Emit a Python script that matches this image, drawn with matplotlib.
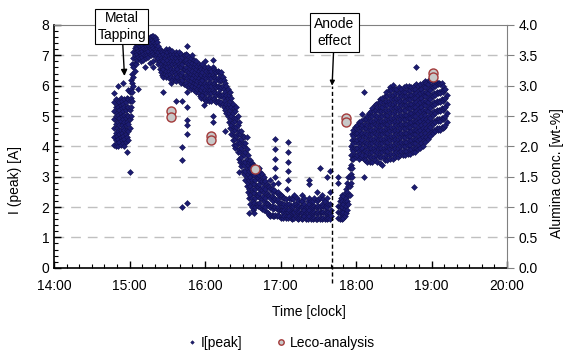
import numpy as np
import matplotlib
matplotlib.use("Agg")
import matplotlib.pyplot as plt
from matplotlib.ticker import MultipleLocator, FuncFormatter

plt.rcParams['font.family'] = ['Liberation Sans', 'DejaVu Sans']
plt.rcParams['font.size'] = 10

# I[peak] [A], clock time -> values seen in that minute
ipeak_before_tap = {
    "14:48": [4.05, 4.3, 4.6, 4.9, 5.15, 5.45, 5.75],
    "14:49": [4.0, 4.2, 4.45, 4.75, 5.0, 5.3, 5.55],
    "14:50": [4.1, 4.35, 4.6, 4.85, 5.1, 5.35],
    "14:51": [4.0, 4.25, 4.5, 4.8, 5.05, 5.3, 5.5, 6.0],
    "14:52": [4.15, 4.4, 4.7, 4.95, 5.2, 5.45],
    "14:53": [4.05, 4.3, 4.55, 4.85, 5.1, 5.35, 5.6],
    "14:54": [4.2, 4.45, 4.7, 5.0, 5.25, 5.5],
    "14:55": [4.1, 4.35, 4.6, 4.9, 5.15, 5.4, 6.1],
    "14:56": [4.0, 4.25, 4.55, 4.8, 5.05, 5.3, 5.55],
    "14:57": [4.15, 4.4, 4.7, 4.95, 5.2, 5.45],
    "14:58": [4.3, 4.55, 4.8, 5.05, 5.3, 5.6, 3.8],
    "14:59": [4.2, 4.5, 4.75, 5.0, 5.3, 5.55, 5.85],
    "15:00": [4.6, 4.9, 5.2, 5.5, 5.8, 3.15],
    "15:01": [5.0, 5.3, 5.6, 5.9, 6.2],
    "15:02": [5.5, 5.8, 6.1, 6.4, 6.7],
    "15:03": [6.0, 6.3, 6.6, 6.9, 7.1],
    "15:04": [6.5, 6.75, 7.0, 7.25],
    "15:05": [6.7, 6.9, 7.1, 7.3, 7.4],
}

ipeak_high = {
    "15:06": [6.85, 7.05, 7.25, 7.4], "15:07": [6.95, 7.15, 7.35, 5.9],
    "15:08": [6.9, 7.1, 7.3, 7.45], "15:09": [6.8, 7.0, 7.2, 7.4],
    "15:10": [6.95, 7.15, 7.35, 7.5], "15:11": [6.85, 7.05, 7.25, 7.45],
    "15:12": [7.0, 7.2, 7.4, 7.55, 6.6], "15:13": [6.9, 7.1, 7.3, 7.5],
    "15:14": [7.0, 7.2, 7.4, 7.6], "15:15": [6.95, 7.15, 7.35, 7.55],
    "15:16": [7.05, 7.25, 7.45, 7.6, 6.75], "15:17": [7.0, 7.2, 7.4, 7.6],
    "15:18": [7.1, 7.3, 7.5, 7.65], "15:19": [7.05, 7.25, 7.45, 7.65, 6.8, 6.6],
    "15:20": [7.0, 7.2, 7.4, 7.6], "15:21": [6.95, 7.15, 7.35, 7.55],
    "15:22": [6.85, 7.05, 7.25, 7.45], "15:23": [6.7, 6.9, 7.1, 7.3],
    "15:24": [6.55, 6.8, 7.0, 7.2], "15:25": [6.45, 6.7, 6.9, 7.15],
    "15:26": [6.35, 6.6, 6.85, 7.1], "15:27": [6.3, 6.55, 6.8, 7.05, 5.8],
    "15:28": [6.4, 6.65, 6.9, 7.15], "15:29": [6.3, 6.5, 6.75, 7.0, 7.2],
    "15:30": [6.35, 6.6, 6.85, 7.1], "15:31": [6.25, 6.5, 6.75, 7.0, 7.2],
    "15:32": [6.4, 6.65, 6.9, 7.15], "15:33": [6.3, 6.55, 6.8, 7.05, 6.1],
    "15:34": [6.2, 6.45, 6.7, 6.95, 7.15], "15:35": [6.3, 6.55, 6.8, 7.05],
    "15:36": [6.2, 6.45, 6.7, 6.95], "15:37": [6.15, 6.4, 6.65, 6.9, 7.1, 5.5],
    "15:38": [6.3, 6.55, 6.8, 7.05], "15:39": [6.2, 6.45, 6.7, 6.95, 7.1],
    "15:40": [6.15, 6.4, 6.65, 6.9], "15:41": [6.1, 6.35, 6.6, 6.85, 7.05],
    "15:42": [6.2, 6.45, 6.7, 6.95, 5.5, 3.97, 3.55, 2.0],
    "15:43": [6.05, 6.3, 6.55, 6.8, 7.0], "15:44": [6.05, 6.3, 6.55, 6.8, 7.0],
    "15:45": [6.1, 6.35, 6.6, 6.85, 7.05],
    "15:46": [6.0, 6.25, 6.5, 6.75, 7.0, 7.3, 5.8, 5.3, 4.87, 4.7, 4.4, 2.15],
    "15:47": [5.95, 6.2, 6.45, 6.7, 6.95], "15:48": [6.05, 6.3, 6.55, 6.8],
    "15:49": [5.9, 6.15, 6.4, 6.65, 6.9], "15:50": [6.0, 6.25, 6.5, 6.75, 7.0],
    "15:51": [5.85, 6.1, 6.35, 6.6, 6.85], "15:52": [5.95, 6.2, 6.45, 6.7],
    "15:53": [5.8, 6.05, 6.3, 6.55, 6.8], "15:54": [5.9, 6.15, 6.4, 6.65],
    "15:55": [5.75, 6.0, 6.25, 6.5, 6.7], "15:56": [5.65, 5.9, 6.15, 6.4, 6.6],
    "15:57": [5.6, 5.85, 6.1, 6.35, 6.55], "15:58": [5.7, 5.95, 6.2, 6.45, 6.7],
    "15:59": [5.55, 5.8, 6.05, 6.3, 6.55, 5.36], "16:00": [5.6, 5.85, 6.1, 6.35, 6.6, 6.8],
    "16:01": [5.5, 5.75, 6.0, 6.25, 6.5], "16:02": [5.6, 5.85, 6.1, 6.35, 6.6],
    "16:03": [5.5, 5.75, 6.0, 6.25, 6.5],
    "16:04": [5.6, 5.85, 6.1, 6.35, 6.55], "16:05": [5.5, 5.75, 6.0, 6.25, 6.5],
    "16:06": [5.6, 5.85, 6.1, 6.35, 6.6, 6.85, 5.0, 4.8],
    "16:07": [5.55, 5.8, 6.05, 6.3, 6.55],
    "16:08": [5.5, 5.75, 6.0, 6.25, 6.5], "16:09": [5.45, 5.7, 5.95, 6.2, 6.45],
    "16:10": [5.5, 5.75, 6.0, 6.25, 6.5], "16:11": [5.45, 5.7, 5.95, 6.2, 6.45],
    "16:12": [5.4, 5.65, 5.9, 6.15, 6.4], "16:13": [5.45, 5.7, 5.95, 6.2, 6.45],
}

ipeak_decline = {
    "16:14": [5.4, 5.7, 6.0, 6.3], "16:15": [5.3, 5.6, 5.9, 6.2],
    "16:16": [5.2, 5.5, 5.8, 6.1, 4.5], "16:17": [5.1, 5.4, 5.7, 6.0],
    "16:18": [5.0, 5.3, 5.6, 5.9], "16:19": [4.8, 5.1, 5.4, 5.7],
    "16:20": [4.6, 4.9, 5.2, 5.5, 5.8], "16:21": [4.4, 4.7, 5.0, 5.3, 5.6],
    "16:22": [4.2, 4.5, 4.8, 5.1, 5.4], "16:23": [4.05, 4.35, 4.65, 4.95, 5.25],
    "16:24": [3.95, 4.25, 4.55, 4.85, 5.15], "16:25": [4.05, 4.35, 4.65, 4.95, 5.3],
    "16:26": [3.8, 4.1, 4.4, 4.7, 5.0], "16:27": [3.6, 3.9, 4.2, 4.5, 4.8, 3.15],
    "16:28": [3.5, 3.8, 4.1, 4.4], "16:29": [3.35, 3.65, 3.95, 4.25, 4.5],
    "16:30": [3.2, 3.5, 3.8, 4.1, 4.35], "16:31": [3.1, 3.4, 3.7, 4.0, 4.3],
    "16:32": [2.9, 3.2, 3.5, 3.8, 4.1], "16:33": [2.7, 3.0, 3.3, 3.6, 3.9, 4.3],
    "16:34": [2.5, 2.8, 3.1, 3.4, 3.7], "16:35": [2.3, 2.6, 2.9, 3.2, 3.5, 1.8],
    "16:36": [2.1, 2.4, 2.7, 3.0, 3.3, 3.55], "16:37": [2.0, 2.3, 2.6, 2.9, 3.2, 3.45],
    "16:38": [1.9, 2.2, 2.5, 2.8, 3.1, 3.4], "16:39": [1.8, 2.15, 2.45, 2.75, 3.05, 3.35],
    "16:40": [2.0, 2.3, 2.6, 2.9, 3.2], "16:41": [2.1, 2.4, 2.7, 3.0, 3.3],
    "16:42": [2.05, 2.35, 2.65, 2.95, 3.25], "16:43": [2.15, 2.45, 2.75, 3.05, 3.3],
    "16:44": [2.0, 2.3, 2.6, 2.9, 3.15], "16:45": [1.95, 2.25, 2.55, 2.85, 3.1],
    "16:46": [2.05, 2.35, 2.65, 2.95], "16:47": [1.9, 2.2, 2.5, 2.8, 3.0],
    "16:48": [2.0, 2.3, 2.6, 2.85], "16:49": [1.85, 2.15, 2.45, 2.75],
    "16:50": [1.8, 2.1, 2.4, 2.7], "16:51": [1.75, 2.05, 2.35, 2.65],
    "16:52": [1.7, 2.0, 2.3, 2.6, 2.9], "16:53": [1.75, 2.05, 2.35, 2.6],
    "16:54": [1.7, 1.95, 2.2, 2.5, 2.75], "16:55": [1.7, 2.0, 2.3, 2.55],
}

ipeak_low = {
    "16:56": [1.75, 2.0, 2.25, 3.0, 3.3, 3.6, 3.9, 4.25],
    "16:57": [1.7, 1.95, 2.2, 2.45], "16:58": [1.75, 2.0, 2.25, 2.5, 2.8],
    "16:59": [1.7, 1.9, 2.15, 2.4], "17:00": [1.65, 1.9, 2.15, 2.4],
    "17:01": [1.7, 1.9, 2.1, 2.35], "17:02": [1.65, 1.85, 2.05, 2.3],
    "17:03": [1.7, 1.9, 2.1, 2.3], "17:04": [1.65, 1.85, 2.05, 2.25],
    "17:05": [1.7, 1.9, 2.1, 2.6], "17:06": [1.65, 1.85, 2.9, 3.2, 3.5, 3.8, 4.15],
    "17:07": [1.7, 1.9, 2.1, 2.3], "17:08": [1.65, 1.85, 2.05, 2.25],
    "17:09": [1.6, 1.8, 2.0, 2.3], "17:10": [1.65, 1.85, 2.05, 2.25],
    "17:11": [1.65, 1.85, 2.1, 2.4], "17:12": [1.7, 1.9, 2.1],
    "17:13": [1.65, 1.85, 2.05, 2.3], "17:14": [1.6, 1.8, 2.0, 2.2],
    "17:15": [1.65, 1.85, 2.05], "17:16": [1.65, 1.8, 2.0, 2.2],
    "17:17": [1.6, 1.8, 2.0, 2.2, 2.4], "17:18": [1.65, 1.85, 2.05],
    "17:19": [1.7, 1.9, 2.1, 2.3], "17:20": [1.6, 1.8, 2.0],
    "17:21": [1.65, 1.85, 2.05], "17:22": [1.6, 1.8, 2.0, 2.2],
    "17:23": [1.7, 1.9, 2.1, 2.3, 2.75, 2.9], "17:24": [1.6, 1.8, 2.0, 2.2],
    "17:25": [1.65, 1.85, 2.05], "17:26": [1.6, 1.8, 2.0, 2.2],
    "17:27": [1.65, 1.85, 2.05, 2.3], "17:28": [1.6, 1.8, 2.0],
    "17:29": [1.6, 1.8, 2.0, 2.2, 2.5], "17:30": [1.65, 1.85, 2.05, 2.25],
    "17:31": [1.6, 1.8, 2.0, 2.3, 3.3], "17:32": [1.65, 1.85, 2.05],
    "17:33": [1.6, 1.85, 2.1, 2.4], "17:34": [1.65, 1.85, 2.05, 2.25],
    "17:35": [1.6, 1.8, 2.0, 2.2], "17:36": [1.65, 1.85, 2.05],
    "17:37": [1.6, 1.8, 2.0, 2.3, 3.0], "17:38": [1.65, 1.85, 2.1],
    "17:39": [1.6, 1.8, 2.1, 2.5, 3.2], "17:40": [1.7, 1.9],
}

ipeak_after_anode = {
    "17:46": [1.65, 1.85, 2.05, 2.8, 3.0], "17:47": [1.6, 1.8, 2.0, 2.2],
    "17:48": [1.65, 1.85, 2.05, 2.3], "17:49": [1.6, 1.8, 2.0, 2.2, 2.4],
    "17:50": [1.65, 1.85, 2.1, 2.35], "17:51": [1.7, 1.95, 2.2, 2.45],
    "17:52": [1.8, 2.05, 2.3, 2.6], "17:53": [1.9, 2.2, 2.5, 2.8],
    "17:54": [2.1, 2.4, 2.7, 3.0], "17:55": [2.4, 2.7, 3.0, 3.3],
    "17:56": [2.8, 3.1, 3.4, 3.7, 4.0], "17:57": [3.3, 3.6, 3.9, 4.2, 4.4, 3.0],
    "17:58": [3.6, 3.85, 4.1, 4.35, 4.55], "17:59": [3.7, 3.95, 4.2, 4.45, 4.65],
    "18:00": [3.65, 3.9, 4.15, 4.4, 4.6], "18:01": [3.7, 3.95, 4.2, 4.45, 4.7],
    "18:02": [3.6, 3.85, 4.1, 4.35, 4.6, 4.8], "18:03": [3.75, 4.0, 4.25, 4.5, 4.75],
    "18:04": [3.65, 3.9, 4.15, 4.4, 4.65, 4.85],
    "18:05": [3.7, 3.95, 4.2, 4.45, 4.7, 5.06],
    "18:06": [3.6, 3.85, 4.1, 4.35, 4.6, 4.9, 5.8, 3.0],
    "18:07": [3.55, 3.85, 4.15, 4.45, 4.75],
    "18:08": [3.7, 4.0, 4.3, 4.6, 4.9],
    "18:09": [3.5, 3.8, 4.1, 4.4, 4.7, 5.0],
    "18:10": [3.65, 3.95, 4.25, 4.55, 4.85, 5.1],
    "18:11": [3.5, 3.8, 4.1, 4.4, 4.7, 5.0],
    "18:12": [3.65, 3.95, 4.25, 4.55, 4.85, 5.15],
    "18:13": [3.5, 3.8, 4.1, 4.4, 4.7, 5.0, 5.25],
    "18:14": [3.65, 3.95, 4.25, 4.55, 4.85, 5.15],
    "18:15": [3.55, 3.85, 4.15, 4.45, 4.75, 5.05, 5.35],
    "18:16": [3.7, 4.0, 4.3, 4.6, 4.9, 5.2, 5.4],
    "18:17": [3.5, 3.8, 4.1, 4.4, 4.7, 5.0, 5.3],
    "18:18": [3.65, 3.95, 4.25, 4.55, 4.85, 5.15, 5.45],
    "18:19": [3.45, 3.8, 4.1, 4.4, 4.7, 5.0, 5.3, 5.55],
    "18:20": [3.65, 3.95, 4.25, 4.55, 4.85, 5.15, 5.45],
    "18:21": [3.4, 3.8, 4.1, 4.4, 4.7, 5.0, 5.3, 5.6],
    "18:22": [3.65, 3.95, 4.25, 4.55, 4.85, 5.15, 5.45],
    "18:23": [3.55, 3.85, 4.15, 4.45, 4.75, 5.05, 5.35, 5.65],
    "18:24": [3.7, 4.0, 4.3, 4.6, 4.9, 5.2, 5.5, 5.8],
    "18:25": [3.55, 3.85, 4.15, 4.45, 4.75, 5.05, 5.35, 5.65],
    "18:26": [3.7, 4.0, 4.3, 4.6, 4.9, 5.2, 5.5, 5.85],
    "18:27": [3.6, 3.9, 4.2, 4.5, 4.8, 5.1, 5.4, 5.7, 5.95],
    "18:28": [3.75, 4.05, 4.35, 4.65, 4.95, 5.25, 5.55, 5.85],
    "18:29": [3.6, 3.9, 4.2, 4.5, 4.8, 5.1, 5.4, 5.7, 6.02],
    "18:30": [3.75, 4.05, 4.35, 4.65, 4.95, 5.25, 5.55, 5.9],
    "18:31": [3.65, 3.95, 4.25, 4.55, 4.85, 5.15, 5.45, 5.75],
    "18:32": [3.8, 4.1, 4.4, 4.7, 5.0, 5.3, 5.6, 5.9],
    "18:33": [3.65, 3.95, 4.25, 4.55, 4.85, 5.15, 5.45, 5.75],
    "18:34": [3.8, 4.1, 4.4, 4.7, 5.0, 5.3, 5.6, 5.95],
    "18:35": [3.7, 4.0, 4.3, 4.6, 4.9, 5.2, 5.5, 5.8],
    "18:36": [3.85, 4.15, 4.45, 4.75, 5.05, 5.35, 5.65, 5.9],
    "18:37": [3.7, 4.0, 4.3, 4.6, 4.9, 5.2, 5.5, 5.8],
    "18:38": [3.85, 4.15, 4.45, 4.75, 5.05, 5.35, 5.65, 5.95],
    "18:39": [3.7, 4.0, 4.3, 4.6, 4.9, 5.2, 5.5, 5.8],
    "18:40": [3.85, 4.15, 4.45, 4.75, 5.05, 5.35, 5.65, 6.0],
    "18:41": [3.75, 4.05, 4.35, 4.65, 4.95, 5.25, 5.55, 5.85],
    "18:42": [3.9, 4.2, 4.5, 4.8, 5.1, 5.4, 5.7, 6.0],
    "18:43": [3.75, 4.05, 4.35, 4.65, 4.95, 5.25, 5.55, 5.85],
    "18:44": [3.9, 4.2, 4.5, 4.8, 5.1, 5.4, 5.7, 5.95],
    "18:45": [3.8, 4.1, 4.4, 4.7, 5.0, 5.3, 5.6, 5.9],
    "18:46": [3.95, 4.25, 4.55, 4.85, 5.15, 5.45, 5.75, 6.0, 2.66],
    "18:47": [3.8, 4.1, 4.4, 4.7, 5.0, 5.3, 5.6, 5.9],
    "18:48": [3.95, 4.25, 4.55, 4.85, 5.15, 5.45, 5.75, 6.05, 6.62],
    "18:49": [3.9, 4.2, 4.5, 4.8, 5.1, 5.4, 5.7, 6.0],
    "18:50": [4.05, 4.35, 4.65, 4.95, 5.25, 5.55, 5.85],
    "18:51": [3.95, 4.25, 4.55, 4.85, 5.15, 5.45, 5.75, 6.05],
    "18:52": [4.1, 4.4, 4.7, 5.0, 5.3, 5.6, 5.9],
    "18:53": [4.0, 4.3, 4.6, 4.9, 5.2, 5.5, 5.8, 6.1],
    "18:54": [4.2, 4.5, 4.8, 5.1, 5.4, 5.7, 6.0],
    "18:55": [4.15, 4.45, 4.75, 5.05, 5.35, 5.65, 5.95, 6.15],
    "18:56": [4.3, 4.6, 4.9, 5.2, 5.5, 5.8, 6.1],
    "18:57": [4.25, 4.55, 4.85, 5.15, 5.45, 5.75, 6.05],
    "18:58": [4.4, 4.7, 5.0, 5.3, 5.6, 5.9, 6.2],
    "18:59": [4.35, 4.65, 4.95, 5.25, 5.55, 5.85, 6.15],
    "19:00": [4.5, 4.8, 5.1, 5.4, 5.7, 6.0, 6.2],
    "19:01": [4.45, 4.75, 5.05, 5.35, 5.65, 5.95, 6.2],
    "19:02": [4.55, 4.85, 5.15, 5.45, 5.75, 6.05],
    "19:03": [4.5, 4.8, 5.1, 5.4, 5.7, 6.0, 6.2],
    "19:04": [4.6, 4.9, 5.2, 5.5, 5.8, 6.1],
    "19:05": [4.55, 4.85, 5.15, 5.45, 5.75, 6.05],
    "19:06": [4.6, 4.9, 5.2, 5.5, 5.8, 6.1],
    "19:07": [4.55, 4.85, 5.15, 5.45, 5.75, 6.05],
    "19:08": [4.65, 4.95, 5.25, 5.55, 5.85, 6.1],
    "19:09": [4.6, 4.9, 5.2, 5.5, 5.8, 6.0],
    "19:10": [4.65, 4.95, 5.25, 5.55, 5.85],
    "19:11": [4.7, 5.0, 5.3, 5.6, 5.9],
    "19:12": [4.8, 5.1, 5.4, 5.7],
}

# Leco-analysis, in left axis units (right axis = half)
leco_times = ["15:33", "15:33", "16:05", "16:05", "16:40", "17:52", "17:52", "19:01", "19:01"]
leco_values = [5.16, 4.96, 4.35, 4.22, 3.24, 4.93, 4.80, 6.43, 6.30]

anode_time = "17:41"
tapping_time = "14:56"


def hours(s):
    h, m = s.split(":")
    return int(h) + int(m) / 60.0


x_ip = []
y_ip = []
for part in [ipeak_before_tap, ipeak_high, ipeak_decline, ipeak_low, ipeak_after_anode]:
    for t, vals in part.items():
        for v in vals:
            x_ip.append(hours(t))
            y_ip.append(v)

x_leco = [hours(t) for t in leco_times]

fig = plt.figure(figsize=(5.66, 3.5), dpi=100)
ax = fig.add_axes([0.0954, 0.235, 0.8004, 0.6936])

ax.plot(x_ip, y_ip, linestyle='none', marker='D', ms=3.0, color='#1c1c72',
        mec='#12124e', mew=0.4, label='I[peak]', zorder=3)
ax.plot(x_leco, leco_values, linestyle='none', marker='o', ms=6.5,
        mfc='#c8c8c8', mec='#a33a3a', mew=1.0, label='Leco-analysis', zorder=4)

ax.set_xlim(14, 20)
ax.set_ylim(0, 8)
ax.xaxis.set_major_locator(MultipleLocator(1))
ax.xaxis.set_minor_locator(MultipleLocator(1 / 6))
ax.xaxis.set_major_formatter(FuncFormatter(lambda v, p: "%d:00" % int(round(v))))
ax.yaxis.set_major_locator(MultipleLocator(1))
ax.yaxis.set_minor_locator(MultipleLocator(0.2))
ax.tick_params(which='both', direction='in', top=False, right=False, colors='black')
ax.tick_params(which='major', length=5, width=1)
ax.tick_params(which='minor', length=3, width=0.8)
ax.tick_params(axis='x', pad=8)

for v in range(1, 8):
    ax.axhline(v, color='#c0c0c0', lw=1, dashes=(7, 5), zorder=1)

ax.spines['left'].set_color('black')
ax.spines['bottom'].set_color('black')
ax.spines['left'].set_linewidth(1.2)
ax.spines['bottom'].set_linewidth(1.2)
ax.spines['top'].set_color('#808080')
ax.spines['right'].set_visible(False)

ax2 = ax.twinx()
ax2.set_ylim(0, 4)
ax2.yaxis.set_major_locator(MultipleLocator(0.5))
ax2.yaxis.set_major_formatter(FuncFormatter(lambda v, p: "%.1f" % v))
ax2.tick_params(direction='out', length=5, color='#808080', labelcolor='black')
for s in ['left', 'bottom', 'top']:
    ax2.spines[s].set_visible(False)
ax2.spines['right'].set_color('#808080')

fig.text(0.026, 0.486, "I (peak) [A]", rotation=90, ha='center', va='center')
fig.text(0.984, 0.506, "Alumina conc. [wt-%]", rotation=90, ha='center', va='center')
fig.text(0.545, 0.109, "Time [clock]", ha='center', va='center')

# anode effect marker
ta = hours(anode_time)
ax.plot([ta, ta], [-0.5, 6.0], color='black', lw=1, dashes=(3, 2), clip_on=False, zorder=5)
ax.annotate("Anode\neffect", xy=(ta, 6.0), xytext=(ta + 0.03, 7.75),
            ha='center', va='center', fontsize=10, annotation_clip=False,
            bbox=dict(boxstyle='square,pad=0.3', fc='white', ec='black', lw=0.8),
            arrowprops=dict(arrowstyle='-|>', color='black', lw=1, mutation_scale=7,
                            shrinkA=0, shrinkB=0), zorder=6)

tt = hours(tapping_time)
ax.annotate("Metal\nTapping", xy=(tt, 6.32), xytext=(tt - 0.035, 7.95),
            ha='center', va='center', fontsize=10, annotation_clip=False,
            bbox=dict(boxstyle='square,pad=0.15', fc='white', ec='black', lw=0.8),
            arrowprops=dict(arrowstyle='-|>', color='black', lw=1, mutation_scale=9,
                            shrinkA=0, shrinkB=0), zorder=6)

h1, l1 = ax.get_legend_handles_labels()
leg = fig.legend(h1, l1, loc='center', bbox_to_anchor=(0.497, 0.02), ncol=2,
                 frameon=False, markerscale=0.6, handlelength=0.6,
                 handletextpad=0.3, columnspacing=2.5, fontsize=10)

fig.savefig("out.png", dpi=100)
